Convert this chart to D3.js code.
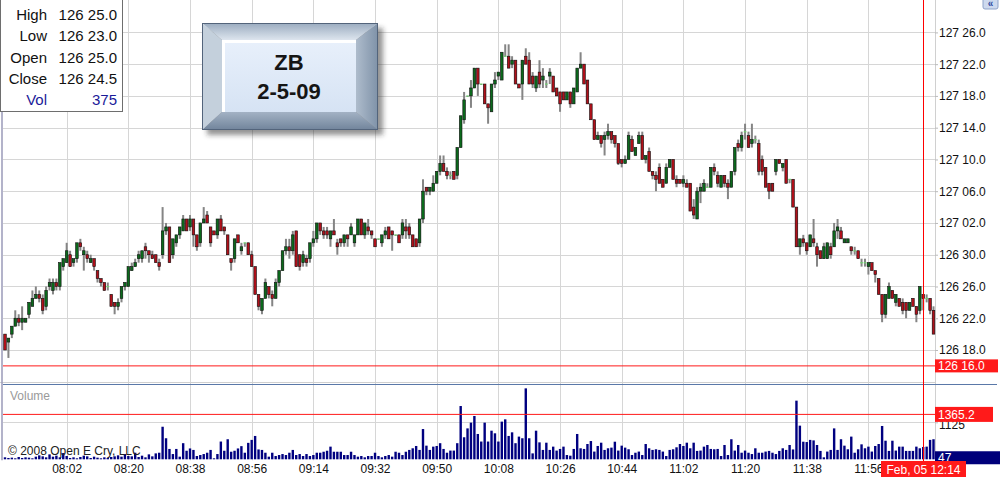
<!DOCTYPE html>
<html><head><meta charset="utf-8">
<script src="https://cdn.jsdelivr.net/npm/d3@7"></script>
<style>html,body{margin:0;padding:0;background:#fff;overflow:hidden}svg{display:block;font-family:"Liberation Sans",Arial,sans-serif}</style>
</head><body><svg id="c" width="1000" height="477"></svg>
<script>
// ---- data (prices in 32nds above 126 00) ----
const timeTicks = ["08:02","08:20","08:38","08:56","09:14","09:32","09:50","10:08","10:26","10:44","11:02","11:20","11:38","11:56"];
const firstBarTime = "07:44";
const priceTicks = [58,54,50,46,42,38,34,30,26,22,18];
const volumeTicks = [1125];
const opens = [
20,19,20,21,22,21.5,21.5,22.5,23.5,24.5, 25,24.5,23.5,26,25.5,26.5,26,28.5,29,30,
29,29.5,31.5,30,30,29,29.5,28,27,26.5, 26,25,24,23.5,24.5,26,26,28,28.5,29.5,
29.5,31,30.5,30,30,29,30,33,33.5,30, 31.5,32.5,33,34.5,33.5,34.5,32.5,31.5,34,35,
33.5,33,32.5,34.5,33.5,32.5,29.5,29.5,32.5,30.5, 31.5,31.5,30,28.5,25,23,24.5,26,25,24.5,
26.5,28,30.5,31,30.5,33,30,29,29.5,29.5, 31.5,32,34,33,33,32,33,31.5,32,31.5,
32.5,32.5,31.5,32.5,34.5,32.5,33.5,33,32,32, 31.5,32.5,33.5,33,32.5,32.5,32.5,33.5,33.5,32.5,
32,31.5,34.5,38.5,38,38,39,40.5,41.5,40.5, 40,40.5,40,43.5,47,50,50,51,53.5,51.5,
51.5,49,48,51.5,52.5,52,55,55,54,54.5, 51.5,51.5,55,54.5,52.5,51,53,52,51.5,52.5,
52.5,51,50.5,50.5,49.5,50.5,49,50.5,53.5,54, 52,49,47,44.5,45,44.5,45,45.5,45,44,
42,41.5,42,44.5,42.5,44,45,42,43,40.5, 40,41,39.5,39,41,42,39.5,39.5,39,39,
39,36,34.5,38,38,38.5,38.5,41,40,38.5, 40,39,38.5,40.5,44,43.5,45.5,45,44,44.5,
44,42,41,39,39,40.5,42,41,42,39.5, 39.5,36,31,32,31.5,31,32,31,30.5,29.5,
29.5,31,31,33,33,31.5,31.5,31,30.5,30.5, 29,29,28.5,29,28,27,25,22.5,24.5,25.5,
24,24.5,24,24,23,24.5,23.5,23,25,24.5, 24.5,23];
const highs = [
20,19.5,21,23,22.5,23.5,22,24,25.5,26, 25.5,25,26,27,27,27,29,29.5,31.5,30.5,
29.5,31.5,32,31,30.5,30,29.5,28,27,26.5, 26.5,25,24,24.5,26,26.5,28.5,29,29.5,30.5,
30.5,31.5,30.5,30.5,30,29.5,36,34,33.5,32, 32.5,33.5,35,34.5,35,34.5,32.5,34,36,35.5,
33.5,33,34.5,35,33.5,32.5,29.5,32,32.5,31.5, 31.5,31.5,30.5,28.5,25,24.5,27,26,25.5,27,
28,30.5,32,32,33,33,30,30.5,30,31.5, 33,34,34,33.5,33.5,33,34.5,32,32,32.5,
32.5,34,32.5,34.5,34.5,34,34.5,33,32,32, 32.5,33.5,33.5,33,32.5,32.5,34.5,34.5,34,32.5,
32,34.5,39.5,38.5,38.5,40,40.5,42.5,42.5,41, 40.5,40.5,43.5,47.5,50.5,50,52,53.5,53.5,51.5,
51.5,49,51.5,53,53,55.5,56.5,56.5,55,54.5, 51.5,54.5,56,55.5,53,52.5,54.5,53.5,52,53.5,
52.5,51,50.5,50.5,50.5,50.5,51,53.5,55.5,54, 52,49,47,45.5,45,45.5,46.5,45.5,45,44,
42,42.5,45.5,45,43.5,45.5,45.5,42.5,43.5,40.5, 40.5,41.5,39.5,41.5,42,42,40,39.5,40,39.5,
39,37,38.5,39,39.5,39,41,41.5,40.5,40, 40,39.5,40.5,43.5,44.5,45.5,46.5,45.5,46.5,45,
44.5,42.5,41,39,39,42,42,41.5,42,39.5, 39.5,36,32,32.5,31.5,32.5,34.5,31.5,30.5,31.5,
31.5,31.5,34,34.5,33.5,32,32,31,31,30.5, 29.5,29.5,29,29,28,27,25,25,26.5,25.5,
25,24.5,24.5,24,24,24.5,23.5,26,25,25, 24.5,23.5];
const lows = [
18,17,19.5,21,21,20.5,21.5,22,23.5,24.5, 24,22.5,23,25.5,25,25.5,25.5,28,29,28.5,
28.5,29,30.5,28,29,29,28,26.5,26,25.5, 25.5,23.5,22.5,23,24,25.5,26,28,28.5,29,
29,29.5,29,29.5,29,28,29.5,32.5,29,29.5, 31,32,33,33,33,31,30.5,31,34,34,
31,32.5,32,33,32.5,30,28,29,31.5,30, 31,30,28.5,25,23,22.5,24.5,24.5,23.5,24.5,
26,28,30,29.5,30,28.5,28,28.5,28.5,29, 31,31.5,32.5,32,32,31,32.5,30,31,31,
31,32.5,31,32.5,32.5,32,32.5,32,31,32, 31,32,32,30.5,32.5,31.5,32,32,32,31,
31,31,34,37.5,37.5,38,39,40,40.5,39.5, 39.5,39.5,39.5,43.5,46.5,50,48.5,51,50,51.5,
49,46.5,48,51,52,52,55,53.5,53.5,51.5, 51,49.5,54,51.5,51,50.5,51,51,51,51.5,
50.5,50,48,49.5,49.5,48.5,49,50.5,53.5,51.5, 49,47,44.5,44.5,43.5,42.5,44.5,44,43.5,41.3,
41,41.5,42,43,42.5,44,42,41.5,40.5,39.5, 38,39,38.5,39,41,39.5,38.5,39,38.5,38.5,
35.5,34.5,34.5,36.5,38,38.5,38.5,40,38.5,38.5, 38.5,37,38.5,40,43,43,44.5,43.5,43.5,44,
40,40,38.5,37,38,40,41.5,40.5,39,39, 36,31,30,31,30,31,31,28.5,29.5,29.5,
29.5,29.5,31,32,32,31.5,31.5,30,30,29.5, 28.5,28.5,27.5,28,26.5,25,21.5,22,24.5,24.5,
23.5,23.5,22.5,22,23,23.5,21.5,22.5,23,24, 22.5,20];
const closes = [
18,19.5,21,22,21.5,22,22,24,24.5,25, 24.5,23,25.5,26.5,26.5,26,29,29.5,30.5,28.5,
29.5,31.5,31,30.5,29.5,29.5,28.5,27,26.5,25.5, 26,23.5,23.5,24,26,26.5,28.5,28.5,29,30,
30.5,30.5,30,29.5,29,28.5,33,33.5,29,32, 32.5,33.5,34.5,33,34.5,32.5,31,34,34.5,34,
31.5,32.5,34.5,33,33,30,29,32,31.5,31, 31.5,30,28.5,25,23.5,24.5,26.5,25,24.5,26.5,
28,30.5,31,30.5,32.5,28.5,28.5,30,29,31.5, 32,34,33,32.5,32.5,33,32.5,31,31.5,32.5,
32,33.5,32.5,34.5,32.5,34,33,32.5,31,32, 32.5,33,32,32.5,32.5,31.5,34,33,32.5,31,
31,34.5,38,38,38.5,39,40.5,41.5,40.5,40, 40,39.5,43.5,47.5,49.5,50,51,53.5,51.5,51.5,
49,48.5,51.5,52,53,55.5,55,53.5,54.5,51.5, 51,54.5,54,51.5,51.5,52.5,51.5,52.5,51.5,53,
50.5,50,49,49.5,50.5,49,51,53.5,54,51.5, 49,47,44.5,45,44,45,45.5,44.5,44,41.5,
41.5,42,45,43,43.5,45,42,42.5,40.5,40, 39.5,39,38.5,41,42,39.5,39,39,39.5,38.5,
35.5,35,38,38.5,39,38.5,41,40.5,39,40, 39,38.5,40.5,43.5,43.5,45,45.5,43.5,44.5,44.5,
40.5,40.5,38.5,38,38,42,41.5,41.5,39,39.5, 36,31,32,31.5,30.5,32.5,31.5,30,29.5,31,
31.5,30,33,33.5,32,32,32,30.5,30.5,29.5, 29,29,29,28,27.5,25,22.5,25,26,24.5,
25,23.5,23,23,24,23.5,22.5,26,24.5,24.5, 23,20];
const volumes = [
60,40,50,30,70,40,60,50,30,80, 120,90,60,150,80,110,60,190,100,40,
60,30,70,110,90,40,80,50,30,60, 40,70,90,120,80,160,100,90,200,70,
110,60,150,90,180,200,
990,640,315,160,315,80,490,260,330,285, 100,130,160,200,285,30,160,540,260,610,
230,260,330,400,200,500,590,710,300,285, 200,80,200,100,130,160,130,200,285,130,
160,100,160,100,130,200,200,230,260,385, 230,230,230,130,130,230,130,80,100,60,
100,100,200,100,60,100,130,80,230,200, 130,230,285,335,405,285,
920,415,285,385,405,490,315,200,265,265, 490,1620,670,940,1115,1317,770,540,1115,540,
870,790,540,
1145,1215,710,820,490,690,640,2157,
640,180,870,515,285,505,285,385,265,315, 385,130,110,315,770,335,315,465,555,235,
405,505,285,335,355,535,265,415,355,305, 130,200,235,130,465,335,285,305,285,235,
100,285,305,365,465,405,505,335,505,255, 265,385,435,315,305,315,100,435,130,610,
265,435,200,265,200,160,335,200,200,235, 255,200,160,255,335,285,435,300,
1783,
1023,535,525,590,575,435,255,60,235,285, 940,285,610,415,305,690,200,305,455,335,
385,235,405,465,1013,565,255,565,265,385, 385,255,255,255,385,335,375,385,590,610];
const cursorBar = 268;
const cursorLabel = "Feb, 05 12:14";
const cursorPrice = 16;
const cursorVolume = 1365.2;
const lastVolume = 47;
const titleLines = ["ZB", "2-5-09"];
const copyright = "\u00A9 2008 Open E Cry, LLC";

// ---- helpers ----
function fmtPrice(p){ const h = Math.floor(p/32); const f = p - 32*h; return (126+h) + " " + (f<10?"0":"") + f.toFixed(1); }
function toMin(s){ const [h,m]=s.split(":").map(Number); return h*60+m; }

const svg = d3.select("#c");
const plotLeft = 3, plotRight = 935, priceBottom = 382, volTop = 385, volBottom = 459.3;
const x = d3.scaleLinear().domain([0, opens.length-1]).range([5, 933.5]);
const y = d3.scaleLinear().domain([18, 58]).range([350, 32.4]);
const yv = d3.scaleLinear().domain([0, 1125]).range([volBottom, 422.3]);
const tickIdx = timeTicks.map(t => toMin(t) - toMin(firstBarTime));

svg.append("rect").attr("width",1000).attr("height",477).attr("fill","#fff");

const grid = svg.append("g").attr("stroke","#d6d6d6").attr("stroke-width",1);
grid.selectAll("line.h").data(priceTicks).join("line")
  .attr("x1",plotLeft).attr("x2",plotRight)
  .attr("y1",d=>Math.round(y(d))+0.5).attr("y2",d=>Math.round(y(d))+0.5);
grid.selectAll("line.v").data(tickIdx).join("line")
  .attr("x1",d=>Math.round(x(d))+0.5).attr("x2",d=>Math.round(x(d))+0.5)
  .attr("y1",0).attr("y2",volBottom+1);
grid.selectAll("line.vv").data(volumeTicks).join("line")
  .attr("x1",plotLeft).attr("x2",plotRight)
  .attr("y1",d=>Math.round(yv(d))+0.5).attr("y2",d=>Math.round(yv(d))+0.5);

// frame lines
svg.append("line").attr("x1",plotRight+0.5).attr("x2",plotRight+0.5).attr("y1",0).attr("y2",volBottom+1).attr("stroke","#d0d0d0");
svg.append("line").attr("x1",0).attr("x2",plotRight).attr("y1",priceBottom+0.5).attr("y2",priceBottom+0.5).attr("stroke","#d0d0d0");
svg.append("line").attr("x1",plotLeft).attr("x2",997).attr("y1",volTop-0.5).attr("y2",volTop-0.5).attr("stroke","#5a78a8").attr("stroke-width",1.2);
svg.append("line").attr("x1",2).attr("x2",2).attr("y1",0).attr("y2",volBottom+1).attr("stroke","#9a9ab8").attr("stroke-width",1.5);

// candles
const idx = d3.range(opens.length);
const cg = svg.append("g");
cg.selectAll("rect.w").data(idx).join("rect")
  .attr("x",i=>x(i)-1).attr("width",2)
  .attr("y",i=>y(Math.max(highs[i],opens[i],closes[i])))
  .attr("height",i=>Math.max(1, y(Math.min(lows[i],opens[i],closes[i])) - y(Math.max(highs[i],opens[i],closes[i]))))
  .attr("fill","#858585");
cg.selectAll("rect.b").data(idx.filter(i=>opens[i]!==closes[i])).join("rect")
  .attr("x",i=>x(i)-1.3).attr("width",2.6)
  .attr("y",i=>y(Math.max(opens[i],closes[i])))
  .attr("height",i=>Math.max(1.5, Math.abs(y(opens[i])-y(closes[i]))))
  .attr("fill",i=>closes[i]>opens[i]?"#0b6a1c":"#b0101a")
  .attr("stroke","#111").attr("stroke-width",0.6);
cg.selectAll("rect.d").data(idx.filter(i=>opens[i]===closes[i])).join("rect")
  .attr("x",i=>x(i)-1.3).attr("width",2.6)
  .attr("y",i=>y(opens[i])-0.5).attr("height",1.2)
  .attr("fill","#6fd06f");

// volume
svg.append("g").selectAll("rect").data(idx).join("rect")
  .attr("x",i=>x(i)-1.2).attr("width",2.4)
  .attr("y",i=>yv(volumes[i])).attr("height",i=>volBottom-yv(volumes[i]))
  .attr("fill","#000080");

// crosshair
const cx = Math.round(x(cursorBar))+0.5;
svg.append("line").attr("x1",plotLeft).attr("x2",plotRight).attr("y1",y(cursorPrice)).attr("y2",y(cursorPrice)).attr("stroke","#ff1a1a");
svg.append("line").attr("x1",plotLeft).attr("x2",plotRight).attr("y1",yv(cursorVolume)).attr("y2",yv(cursorVolume)).attr("stroke","#ff1a1a");
svg.append("line").attr("x1",cx).attr("x2",cx).attr("y1",0).attr("y2",462).attr("stroke","#ff0000");

// price axis
const pa = svg.append("g").attr("transform",`translate(${plotRight},0)`)
  .call(d3.axisRight(y).tickValues(priceTicks).tickFormat(fmtPrice).tickSize(3).tickPadding(1));
pa.select(".domain").remove();
pa.selectAll("line").attr("stroke","#bbb");
pa.selectAll("text").attr("font-size",12).attr("font-family","Liberation Sans, Arial, sans-serif").attr("fill","#111");

// volume axis
const va = svg.append("g").attr("transform",`translate(${plotRight},0)`)
  .call(d3.axisRight(yv).tickValues(volumeTicks).tickFormat(d3.format("d")).tickSize(3).tickPadding(1));
va.select(".domain").remove();
va.selectAll("line").attr("stroke","#bbb");
va.selectAll("text").attr("font-size",12).attr("font-family","Liberation Sans, Arial, sans-serif").attr("fill","#111").attr("dy","0.55em");

// time axis
const ta = svg.append("g").attr("transform",`translate(0,${volBottom+1})`)
  .call(d3.axisBottom(x).tickValues(tickIdx).tickFormat((d,i)=>timeTicks[i]).tickSize(0).tickPadding(4));
ta.select(".domain").remove();
ta.selectAll("text").attr("font-size",12).attr("font-family","Liberation Sans, Arial, sans-serif").attr("fill","#111");

// value tags on the right
function tag(yc, h, w, fill, text){
  const g = svg.append("g");
  g.append("rect").attr("x",plotRight).attr("y",yc-h/2).attr("width",w).attr("height",h).attr("fill",fill);
  g.append("text").attr("x",plotRight+3).attr("y",yc).attr("dy","0.36em").attr("font-size",12).attr("fill","#fff").text(text);
}
tag(y(cursorPrice), 13, 63, "#ff1a1a", fmtPrice(cursorPrice));
tag(yv(cursorVolume), 15, 58, "#ff1a1a", String(cursorVolume));
tag(yv(lastVolume), 13, 65, "#00007a", String(lastVolume));

// date tag
const dg = svg.append("g");
dg.append("rect").attr("x",cx-42.5).attr("y",461).attr("width",85).attr("height",16).attr("fill","#ff1a1a");
dg.append("text").attr("x",cx).attr("y",469.5).attr("dy","0.36em").attr("text-anchor","middle").attr("font-size",12).attr("fill","#fff").text(cursorLabel);

// labels
svg.append("text").attr("x",10).attr("y",400).attr("font-size",12).attr("fill","#9a9a9a").text("Volume");
svg.append("text").attr("x",8).attr("y",455).attr("font-size",12).attr("fill","#222").text(copyright);

// top-right icon
svg.append("rect").attr("x",983).attr("y",-2).attr("width",15).attr("height",11).attr("rx",2).attr("fill","#cdd9ee").attr("stroke","#8ea3c9");
svg.append("text").attr("x",990.5).attr("y",7).attr("text-anchor","middle").attr("font-size",10).attr("font-weight","bold").attr("fill","#2b4aa0").text("\u00AB");

// OHLC info box
const b = cursorBar;
const info = [["High",fmtPrice(highs[b]),"#111"],["Low",fmtPrice(lows[b]),"#111"],["Open",fmtPrice(opens[b]),"#111"],["Close",fmtPrice(closes[b]),"#111"],["Vol",String(volumes[b]),"#1a1a99"]];
const ib = svg.append("g");
ib.append("rect").attr("x",0.5).attr("y",-1).attr("width",122).attr("height",112.5).attr("fill","#fff").attr("stroke","#6e6e6e");
ib.selectAll("text.l").data(info).join("text").attr("x",47).attr("y",(d,i)=>20+i*21.3).attr("text-anchor","end").attr("font-size",15).attr("fill",d=>d[2]).text(d=>d[0]);
ib.selectAll("text.v").data(info).join("text").attr("x",117).attr("y",(d,i)=>20+i*21.3).attr("text-anchor","end").attr("font-size",15).attr("fill",d=>d[2]).text(d=>d[1]);

// title box (beveled)
const defs = svg.append("defs");
const f = defs.append("filter").attr("id","sh").attr("x","-20%").attr("y","-20%").attr("width","140%").attr("height","140%");
f.append("feGaussianBlur").attr("stdDeviation",2.5);
const gi = defs.append("linearGradient").attr("id","inner").attr("x1",0).attr("y1",0).attr("x2",0).attr("y2",1);
gi.append("stop").attr("offset",0).attr("stop-color","#e8f0fb");
gi.append("stop").attr("offset",1).attr("stop-color","#d6e3f4");
const gt = defs.append("linearGradient").attr("id","topb").attr("x1",0).attr("y1",0).attr("x2",0).attr("y2",1);
gt.append("stop").attr("offset",0).attr("stop-color","#9aabbf");
gt.append("stop").attr("offset",1).attr("stop-color","#dde5ee");
const gr = defs.append("linearGradient").attr("id","rightb").attr("x1",0).attr("y1",0).attr("x2",1).attr("y2",0);
gr.append("stop").attr("offset",0).attr("stop-color","#aebccc");
gr.append("stop").attr("offset",1).attr("stop-color","#7f92a8");
const gb = defs.append("linearGradient").attr("id","botb").attr("x1",0).attr("y1",0).attr("x2",0).attr("y2",1);
gb.append("stop").attr("offset",0).attr("stop-color","#a3b2c4");
gb.append("stop").attr("offset",1).attr("stop-color","#71849b");
const O = {x1:202, y1:23, x2:378, y2:130}, I = {x1:222, y1:40, x2:356, y2:112};
const tb = svg.append("g");
tb.append("rect").attr("x",O.x1+5).attr("y",O.y1+5).attr("width",O.x2-O.x1).attr("height",O.y2-O.y1).attr("fill","rgba(40,40,40,0.5)").attr("filter","url(#sh)");
const poly = (pts, fill) => tb.append("polygon").attr("points",pts.map(p=>p.join(",")).join(" ")).attr("fill",fill);
poly([[O.x1,O.y1],[O.x2,O.y1],[I.x2,I.y1],[I.x1,I.y1]], "url(#topb)");
poly([[O.x1,O.y1],[I.x1,I.y1],[I.x1,I.y2],[O.x1,O.y2]], "#c4d0dc");
poly([[O.x2,O.y1],[O.x2,O.y2],[I.x2,I.y2],[I.x2,I.y1]], "url(#rightb)");
poly([[O.x1,O.y2],[O.x2,O.y2],[I.x2,I.y2],[I.x1,I.y2]], "url(#botb)");
tb.append("rect").attr("x",O.x1+0.5).attr("y",O.y1+0.5).attr("width",O.x2-O.x1-1).attr("height",O.y2-O.y1-1).attr("fill","none").attr("stroke","#53647b");
tb.append("rect").attr("x",I.x1).attr("y",I.y1).attr("width",I.x2-I.x1).attr("height",I.y2-I.y1).attr("fill","url(#inner)");
tb.append("polyline").attr("points",`${I.x1+1.5},${I.y2} ${I.x1+1.5},${I.y1+1.5} ${I.x2},${I.y1+1.5}`).attr("fill","none").attr("stroke","#fff").attr("stroke-width",3);
tb.selectAll("text").data(titleLines).join("text")
  .attr("x",(I.x1+I.x2)/2).attr("y",(d,i)=>70+i*28.5).attr("text-anchor","middle")
  .attr("font-size",22).attr("font-weight","bold").attr("fill","#151515").text(d=>d);
</script></body></html>
